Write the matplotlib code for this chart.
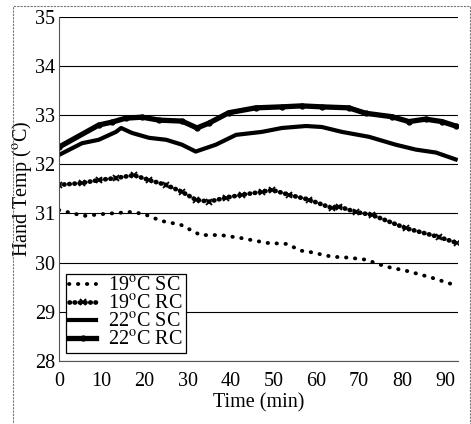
import numpy as np
import matplotlib.pyplot as plt
from matplotlib.patches import Rectangle

# minutes / hand temperature (deg C)
t_sc19 = [0, 5.8, 10.5, 16.8, 19.8, 23.8, 28.4, 33, 37.7, 42.4, 48.5, 53, 56.6,
          58.3, 63.6, 67.6, 71.5, 76.2, 81.6, 87, 92]
sc19 = [31.07, 30.95, 30.99, 31.03, 30.99, 30.85, 30.77, 30.56, 30.56, 30.5, 30.4,
        30.38, 30.24, 30.22, 30.12, 30.1, 30.06, 29.92, 29.82, 29.69, 29.55]

t_rc19 = [0, 5.4, 9.3, 13.3, 17.5, 21, 25, 28.7, 31.9, 35, 38.9, 42.7, 47.3, 49.7,
          53.6, 58.3, 63.6, 65.3, 69.2, 73, 80.9, 88.6, 92.8]
rc19 = [31.58, 31.62, 31.68, 31.72, 31.78, 31.68, 31.58, 31.44, 31.28, 31.24, 31.32,
        31.38, 31.44, 31.48, 31.38, 31.28, 31.11, 31.14, 31.03, 30.97, 30.7, 30.52, 30.4]

t_sc22 = [0, 5.4, 9.3, 13.3, 14.5, 17, 21, 25, 28.7, 31.9, 36.6, 41.3, 47.3, 52,
          57.6, 61.3, 66, 72.3, 78.5, 83.2, 87.9, 92.5]
sc22 = [32.19, 32.43, 32.5, 32.66, 32.74, 32.64, 32.54, 32.5, 32.4, 32.26, 32.4,
        32.6, 32.66, 32.74, 32.78, 32.76, 32.66, 32.56, 32.4, 32.3, 32.24, 32.1]

t_rc22 = [0, 9.3, 12.4, 15.6, 19.4, 23.3, 28.7, 32.2, 35, 39.6, 45.9, 52, 56.6,
          61.3, 67.6, 71.5, 77.6, 81.6, 85.5, 89.3, 92.5]
rc22 = [32.35, 32.8, 32.86, 32.94, 32.96, 32.9, 32.88, 32.74, 32.84, 33.05, 33.15,
        33.17, 33.19, 33.17, 33.15, 33.04, 32.97, 32.87, 32.92, 32.87, 32.78]

labels = ["19$^{\\rm o}$C SC", "19$^{\\rm o}$C RC", "22$^{\\rm o}$C SC", "22$^{\\rm o}$C RC"]
xticks = [0, 10, 20, 30, 40, 50, 60, 70, 80, 90]
yticks = [28, 29, 30, 31, 32, 33, 34, 35]

plt.rcParams['font.family'] = ['Liberation Serif', 'DejaVu Serif']
plt.rcParams['mathtext.fontset'] = 'stix'

fig = plt.figure(figsize=(4.71, 4.24), dpi=100)
ax = fig.add_axes([0.125, 0.149, 0.847, 0.811])

# frame around the whole picture
fig.patches.append(Rectangle((13 / 471, -0.05), 457 / 471, 1.05 - 6 / 424,
                             transform=fig.transFigure, fill=False,
                             edgecolor='#777777', linewidth=0.8, linestyle=(0, (2, 1))))

ax.plot(t_sc19, sc19, color='black', linestyle=(0, (0.1, 2.2)), linewidth=2.8,
        dash_capstyle='round', label=labels[0])
ax.plot(t_rc19, rc19, color='black', linestyle=(0, (0.1, 1.0)), linewidth=3.4,
        dash_capstyle='round', marker='x', markersize=5, markeredgewidth=1.3, label=labels[1])
ax.plot(t_sc22, sc22, color='black', linewidth=3.0, label=labels[2])
ax.plot(t_rc22, rc22, color='black', linewidth=3.8, marker='o', markersize=3.5,
        label=labels[3])

ax.set_xlim(0, 93)
ax.set_ylim(28, 35)
ax.set_xticks(xticks)
ax.set_yticks(yticks)
ax.yaxis.grid(True, color='black', linewidth=0.8)
ax.set_axisbelow(True)
ax.tick_params(length=0, labelsize=14.5, pad=2.5)
ax.tick_params(axis='x', pad=8)

for s in ['top', 'right']:
    ax.spines[s].set_visible(False)
ax.spines['left'].set_color('#555555')
ax.spines['left'].set_linestyle((0, (2, 1)))
ax.spines['bottom'].set_color('#555555')

ax.set_xlabel("Time (min)", fontsize=14.5, labelpad=2)
ax.set_ylabel("Hand Temp ($^{\\rm o}$C)", fontsize=14.5, labelpad=1)

leg = ax.legend(loc='lower left', bbox_to_anchor=(0.018, 0.022), fontsize=14.5,
                frameon=True, fancybox=False, edgecolor='black', framealpha=1,
                handlelength=1.35, handletextpad=0.6, borderpad=0.15, labelspacing=-0.05,
                borderaxespad=0)
leg.get_frame().set_linewidth(0.9)

fig.savefig("out.png", dpi=100)
